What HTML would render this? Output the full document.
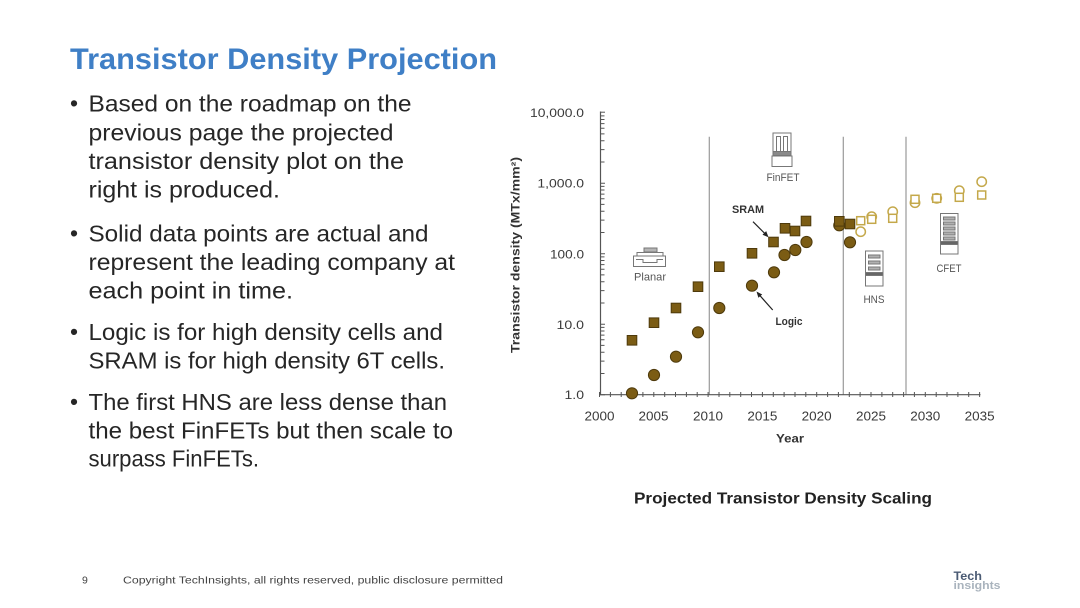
<!DOCTYPE html>
<html>
<head>
<meta charset="utf-8">
<style>
  html,body{margin:0;padding:0;background:#fff;}
  svg{display:block;}
  text{font-family:"Liberation Sans", Arial, sans-serif;}
</style>
</head>
<body>
<svg width="1080" height="608" viewBox="0 0 1080 608" xmlns="http://www.w3.org/2000/svg">
  <rect x="0" y="0" width="1080" height="608" fill="#ffffff"/>

  <!-- Title -->
  <text x="70" y="69" font-size="30" font-weight="bold" fill="#3f7fc6" textLength="427" lengthAdjust="spacingAndGlyphs">Transistor Density Projection</text>

  <!-- Bullets -->
  <g font-size="23" fill="#262626">
    <text x="70" y="111">•</text>
    <text x="88.5" y="111.7" textLength="323" lengthAdjust="spacingAndGlyphs">Based on the roadmap on the</text>
    <text x="88.5" y="140.3" textLength="305" lengthAdjust="spacingAndGlyphs">previous page the projected</text>
    <text x="88.5" y="169" textLength="315.5" lengthAdjust="spacingAndGlyphs">transistor density plot on the</text>
    <text x="88.5" y="197.7" textLength="191.5" lengthAdjust="spacingAndGlyphs">right is produced.</text>

    <text x="70" y="241">•</text>
    <text x="88.5" y="241.7" textLength="340" lengthAdjust="spacingAndGlyphs">Solid data points are actual and</text>
    <text x="88.5" y="270" textLength="366.5" lengthAdjust="spacingAndGlyphs">represent the leading company at</text>
    <text x="88.5" y="298.3" textLength="204.5" lengthAdjust="spacingAndGlyphs">each point in time.</text>

    <text x="70" y="339.5">•</text>
    <text x="88.5" y="340" textLength="354.5" lengthAdjust="spacingAndGlyphs">Logic is for high density cells and</text>
    <text x="88.5" y="368.3" textLength="356.5" lengthAdjust="spacingAndGlyphs">SRAM is for high density 6T cells.</text>

    <text x="70" y="409.5">•</text>
    <text x="88.5" y="410" textLength="358.5" lengthAdjust="spacingAndGlyphs">The first HNS are less dense than</text>
    <text x="88.5" y="438.3" textLength="364.5" lengthAdjust="spacingAndGlyphs">the best FinFETs but then scale to</text>
    <text x="88.5" y="466.7" textLength="170.5" lengthAdjust="spacingAndGlyphs">surpass FinFETs.</text>
  </g>

  <!-- Chart -->
  <defs>
    <path id="dec" d="M600.5 0h4.5 M600.5 -21.2h4 M600.5 -33.6h4 M600.5 -42.4h4 M600.5 -49.3h4 M600.5 -54.9h4 M600.5 -59.6h4 M600.5 -63.7h4 M600.5 -67.3h4" stroke="#555" stroke-width="1" fill="none"/>
  </defs>

  <!-- vertical era dividers -->
  <g stroke="#9a9a9a" stroke-width="1.2">
    <line x1="709.3" y1="136.7" x2="709.3" y2="394.7"/>
    <line x1="843.3" y1="136.7" x2="843.3" y2="394.7"/>
    <line x1="906" y1="136.7" x2="906" y2="394.7"/>
  </g>

  <!-- axes -->
  <g stroke="#555" stroke-width="1.2" fill="none">
    <line x1="600.5" y1="111.5" x2="600.5" y2="395.3"/>
    <line x1="599.9" y1="394.7" x2="980.5" y2="394.7"/>
  </g>
  <use href="#dec" transform="translate(0,394.7)"/>
  <use href="#dec" transform="translate(0,324.2)"/>
  <use href="#dec" transform="translate(0,253.7)"/>
  <use href="#dec" transform="translate(0,183.2)"/>
  <path d="M600.5 112.2h4.5" stroke="#555" stroke-width="1"/>
  <path stroke="#555" stroke-width="1" fill="none" d="M599.5 392v5 M610.4 392v5 M621.2 392v5 M632.1 392v5 M642.9 392v5 M653.8 392v5 M664.7 392v5 M675.5 392v5 M686.4 392v5 M697.2 392v5 M708.1 392v5 M719 392v5 M729.8 392v5 M740.7 392v5 M751.5 392v5 M762.4 392v5 M773.3 392v5 M784.1 392v5 M795 392v5 M805.8 392v5 M816.7 392v5 M827.6 392v5 M838.4 392v5 M849.3 392v5 M860.1 392v5 M871 392v5 M881.9 392v5 M892.7 392v5 M903.6 392v5 M914.4 392v5 M925.3 392v5 M936.2 392v5 M947 392v5 M957.9 392v5 M968.7 392v5 M979.6 392v5"/>

  <!-- y tick labels -->
  <g font-size="12" fill="#3a3a3a" text-anchor="end">
    <text x="584" y="117" textLength="54" lengthAdjust="spacingAndGlyphs">10,000.0</text>
    <text x="584" y="187.6" textLength="46.6" lengthAdjust="spacingAndGlyphs">1,000.0</text>
    <text x="584" y="258.3" textLength="34" lengthAdjust="spacingAndGlyphs">100.0</text>
    <text x="584" y="329" textLength="27.5" lengthAdjust="spacingAndGlyphs">10.0</text>
    <text x="584" y="399" textLength="19.5" lengthAdjust="spacingAndGlyphs">1.0</text>
  </g>
  <!-- x tick labels -->
  <g font-size="12.5" fill="#3a3a3a" text-anchor="middle">
    <text x="599.5" y="420.7" textLength="30" lengthAdjust="spacingAndGlyphs">2000</text>
    <text x="653.5" y="420.7" textLength="30" lengthAdjust="spacingAndGlyphs">2005</text>
    <text x="708" y="420.7" textLength="30" lengthAdjust="spacingAndGlyphs">2010</text>
    <text x="762.4" y="420.7" textLength="30" lengthAdjust="spacingAndGlyphs">2015</text>
    <text x="816.7" y="420.7" textLength="30" lengthAdjust="spacingAndGlyphs">2020</text>
    <text x="871" y="420.7" textLength="30" lengthAdjust="spacingAndGlyphs">2025</text>
    <text x="925.3" y="420.7" textLength="30" lengthAdjust="spacingAndGlyphs">2030</text>
    <text x="979.6" y="420.7" textLength="30" lengthAdjust="spacingAndGlyphs">2035</text>
  </g>
  <text x="790" y="442.5" font-size="12" font-weight="bold" fill="#333" text-anchor="middle" textLength="28" lengthAdjust="spacingAndGlyphs">Year</text>
  <text transform="translate(519.5,255) rotate(-90)" font-size="11.5" font-weight="bold" fill="#333" text-anchor="middle" textLength="196" lengthAdjust="spacingAndGlyphs">Transistor density (MTx/mm²)</text>

  <!-- Icons -->
  <g stroke="#777" stroke-width="1" fill="none">
    <!-- Planar -->
    <rect x="644" y="248" width="13" height="4" fill="#b5b5b5"/>
    <path d="M637 256 V252.5 H663 V256"/>
    <rect x="633.5" y="256" width="32" height="10.5" fill="#fff"/>
    <path d="M636 259.5 H643 V262.5 H657 V259.5 H663"/>
    <!-- FinFET -->
    <rect x="773" y="133" width="18" height="23" fill="#fff"/>
    <path d="M776.5 152 V136.5 H780.5 V152 M783.5 152 V136.5 H787.5 V152"/>
    <rect x="773" y="151.5" width="18" height="4" fill="#8a8a8a"/>
    <rect x="772" y="156" width="20" height="10.5" fill="#fff"/>
    <!-- HNS -->
    <rect x="865.5" y="251" width="17.5" height="35" fill="#fff"/>
    <rect x="868.5" y="255" width="11.5" height="3" fill="#b0b0b0"/>
    <rect x="868.5" y="261" width="11.5" height="3" fill="#b0b0b0"/>
    <rect x="868.5" y="267" width="11.5" height="3" fill="#b0b0b0"/>
    <rect x="865.5" y="272.5" width="17.5" height="3" fill="#666"/>
    <!-- CFET -->
    <rect x="940.5" y="213.5" width="17.5" height="40.5" fill="#fff"/>
    <rect x="943.5" y="217" width="11.5" height="3" fill="#b0b0b0"/>
    <rect x="943.5" y="222" width="11.5" height="3" fill="#b0b0b0"/>
    <rect x="943.5" y="227" width="11.5" height="3" fill="#b0b0b0"/>
    <rect x="943.5" y="232" width="11.5" height="3" fill="#b0b0b0"/>
    <rect x="943.5" y="237" width="11.5" height="3" fill="#b0b0b0"/>
    <rect x="940.5" y="241.5" width="17.5" height="3" fill="#666"/>
  </g>
  <g font-size="11" fill="#555" text-anchor="middle">
    <text x="650" y="280.7" textLength="32" lengthAdjust="spacingAndGlyphs">Planar</text>
    <text x="783" y="181.2" textLength="33" lengthAdjust="spacingAndGlyphs">FinFET</text>
    <text x="874" y="303.2" textLength="21" lengthAdjust="spacingAndGlyphs">HNS</text>
    <text x="949" y="272.2" textLength="25" lengthAdjust="spacingAndGlyphs">CFET</text>
  </g>
  <g font-size="11" font-weight="bold" fill="#333" text-anchor="middle">
    <text x="748" y="213" textLength="32" lengthAdjust="spacingAndGlyphs">SRAM</text>
    <text x="789" y="325" textLength="27" lengthAdjust="spacingAndGlyphs">Logic</text>
  </g>
  <!-- arrows -->
  <g stroke="#222" stroke-width="1.2" fill="#222">
    <line x1="753" y1="221.7" x2="766" y2="234.7"/>
    <polygon points="768.5,237.2 762.5,234.8 766.2,231.1" stroke="none"/>
    <line x1="772.7" y1="310" x2="758.5" y2="294"/>
    <polygon points="756.5,291.5 762.2,294.5 758.4,297.8" stroke="none"/>
  </g>

  <!-- filled squares (SRAM actual) -->
  <g fill="#7b5c14" stroke="#4e3a0c" stroke-width="1">
    <rect x="627.2" y="335.5" width="9.6" height="9.6"/>
    <rect x="649.2" y="317.9" width="9.6" height="9.6"/>
    <rect x="671.2" y="303.2" width="9.6" height="9.6"/>
    <rect x="693.2" y="281.9" width="9.6" height="9.6"/>
    <rect x="714.5" y="261.9" width="9.6" height="9.6"/>
    <rect x="747.2" y="248.5" width="9.6" height="9.6"/>
    <rect x="768.7" y="237.2" width="9.6" height="9.6"/>
    <rect x="780.2" y="223.5" width="9.6" height="9.6"/>
    <rect x="790.2" y="226.2" width="9.6" height="9.6"/>
    <rect x="801.2" y="216.2" width="9.6" height="9.6"/>
  </g>
  <!-- filled circles (Logic actual) -->
  <g fill="#7b5c14" stroke="#4e3a0c" stroke-width="1">
    <circle cx="632" cy="393.3" r="5.6"/>
    <circle cx="654" cy="375" r="5.6"/>
    <circle cx="676" cy="356.7" r="5.6"/>
    <circle cx="698" cy="332.3" r="5.6"/>
    <circle cx="719.3" cy="308" r="5.6"/>
    <circle cx="752" cy="285.7" r="5.6"/>
    <circle cx="774" cy="272.3" r="5.6"/>
    <circle cx="784.5" cy="255" r="5.6"/>
    <circle cx="795.3" cy="250" r="5.6"/>
    <circle cx="806.5" cy="242" r="5.6"/>
    <circle cx="839.3" cy="225.3" r="5.6"/>
    <circle cx="850" cy="242.3" r="5.6"/>
  </g>
  <g fill="#7b5c14" stroke="#4e3a0c" stroke-width="1">
    <rect x="834.5" y="216.5" width="9.6" height="9.6"/>
    <rect x="845.2" y="219.2" width="9.6" height="9.6"/>
  </g>

  <!-- open projected markers -->
  <g fill="#fff" stroke="#c4a84a" stroke-width="1.5">
    <circle cx="860.7" cy="231.7" r="4.7"/>
    <rect x="856.7" y="216.7" width="8" height="8"/>
    <circle cx="871.7" cy="216.7" r="4.7"/>
    <rect x="867.7" y="215.3" width="8" height="8"/>
    <circle cx="892.7" cy="211.7" r="4.7"/>
    <rect x="888.7" y="214.3" width="8" height="8"/>
    <circle cx="915" cy="202.7" r="4.7"/>
    <rect x="911" y="195.3" width="8" height="8"/>
    <circle cx="936.7" cy="198.3" r="4.7"/>
    <rect x="932.7" y="194.3" width="8" height="8"/>
    <circle cx="959.3" cy="190.7" r="4.7"/>
    <rect x="955.3" y="193.3" width="8" height="8"/>
    <circle cx="981.7" cy="181.7" r="4.7"/>
    <rect x="977.7" y="191" width="8" height="8"/>
  </g>

  <!-- Caption -->
  <text x="634" y="503.3" font-size="16" font-weight="bold" fill="#222" textLength="298" lengthAdjust="spacingAndGlyphs">Projected Transistor Density Scaling</text>

  <!-- Footer -->
  <text x="82" y="583.5" font-size="10.5" fill="#444">9</text>
  <text x="123" y="583.5" font-size="10.5" fill="#444" textLength="380" lengthAdjust="spacingAndGlyphs">Copyright TechInsights, all rights reserved, public disclosure permitted</text>

  <!-- Logo -->
  <text x="953.5" y="580" font-size="12" font-weight="bold" fill="#4b5b74" textLength="28.5" lengthAdjust="spacingAndGlyphs">Tech</text>
  <text x="953.5" y="589" font-size="11" font-weight="bold" fill="#a9b3bd" textLength="47" lengthAdjust="spacingAndGlyphs">insights</text>
</svg>
</body>
</html>
